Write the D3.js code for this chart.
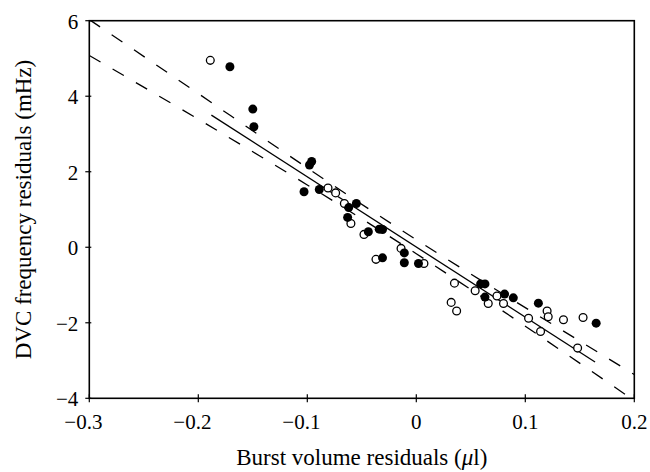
<!DOCTYPE html>
<html>
<head>
<meta charset="utf-8">
<script src="https://cdn.jsdelivr.net/npm/d3@7"></script>
<style>
  body { margin: 0; background: #fff; }
  text { font-family: "Liberation Serif", "Times New Roman", serif; fill: #000; }
</style>
</head>
<body>
<svg id="chart" width="650" height="472"></svg>
<script>
// filled circles
const filledX = [-0.171, -0.150, -0.149, -0.098, -0.096, -0.103, -0.089, -0.055, -0.062, -0.063,
                 -0.044, -0.034, -0.031, -0.011, -0.031, -0.011, 0.002, 0.059, 0.063, 0.063,
                 0.081, 0.089, 0.112, 0.165];
const filledY = [4.78, 3.66, 3.19, 2.18, 2.27, 1.47, 1.53, 1.16, 1.05, 0.79,
                 0.41, 0.48, 0.47, -0.15, -0.28, -0.41, -0.43, -0.97, -0.97, -1.32,
                 -1.24, -1.34, -1.48, -2.01];
// open circles
const openX = [-0.189, -0.081, -0.074, -0.066, -0.060, -0.048, -0.037, -0.014, 0.007, 0.035,
               0.032, 0.037, 0.054, 0.066, 0.074, 0.080, 0.103, 0.120, 0.121, 0.135,
               0.153, 0.114, 0.148];
const openY = [4.95, 1.57, 1.44, 1.16, 0.63, 0.34, -0.32, -0.03, -0.43, -0.95,
               -1.46, -1.69, -1.15, -1.49, -1.29, -1.49, -1.88, -1.69, -1.84, -1.92,
               -1.86, -2.23, -2.67];
// fitted line and its bands
const fitX = [-0.188, 0.164];
const fitY = [3.50, -3.04];
const bandX = [-0.3, -0.2, -0.1, 0, 0.1, 0.2];
const bandUpper = [6.03, 4.07, 2.10, 0.20, -1.60, -3.37];
const bandLower = [5.08, 3.39, 1.65, -0.17, -2.09, -4.06];

const xTicks = [-0.3, -0.2, -0.1, 0, 0.1, 0.2];
const yTicks = [-4, -2, 0, 2, 4, 6];

const margin = {top: 20.7, right: 15.7, bottom: 73.7, left: 89.3};
const W = 650, H = 472;

const svg = d3.select('#chart');

const x = d3.scaleLinear().domain([-0.3, 0.2]).range([margin.left, W - margin.right]);
const y = d3.scaleLinear().domain([-4, 6]).range([H - margin.bottom, margin.top]);

const fmt = v => v === 0 ? '0' : String(Math.abs(v));

svg.append('defs').append('clipPath').attr('id', 'plot')
  .append('rect')
  .attr('x', x(-0.3)).attr('y', y(6))
  .attr('width', x(0.2) - x(-0.3)).attr('height', y(-4) - y(6));

// frame
svg.append('rect')
  .attr('x', x(-0.3)).attr('y', y(6))
  .attr('width', x(0.2) - x(-0.3)).attr('height', y(-4) - y(6))
  .attr('fill', 'none').attr('stroke', '#000').attr('stroke-width', 1.6);

// x ticks
const xt = svg.append('g');
xTicks.forEach(v => {
  xt.append('line')
    .attr('x1', x(v)).attr('x2', x(v))
    .attr('y1', y(-4) - 4).attr('y2', y(-4) + 4)
    .attr('stroke', '#000').attr('stroke-width', 1.2);
  const t = xt.append('text')
    .attr('x', x(v)).attr('y', y(-4) + 31)
    .attr('text-anchor', 'middle')
    .attr('font-size', 21)
    .text(fmt(v));
  if (v < 0) {
    const w = t.node().getComputedTextLength();
    xt.append('text')
      .attr('x', x(v) - w / 2).attr('y', y(-4) + 31)
      .attr('text-anchor', 'end')
      .attr('font-size', 21)
      .text('\u2212');
  }
});

// y ticks
const yt = svg.append('g');
yTicks.forEach(v => {
  yt.append('line')
    .attr('x1', x(-0.3) - 4).attr('x2', x(-0.3) + 2)
    .attr('y1', y(v)).attr('y2', y(v))
    .attr('stroke', '#000').attr('stroke-width', 1.2);
  yt.append('text')
    .attr('x', x(-0.3) - 11).attr('y', y(v) + 8)
    .attr('text-anchor', 'end')
    .attr('font-size', 21)
    .text((v < 0 ? '\u2212' : '') + fmt(v));
});

// axis titles
const xl = svg.append('text')
  .attr('x', (x(-0.3) + x(0.2)) / 2).attr('y', 465)
  .attr('text-anchor', 'middle')
  .attr('font-size', 23);
xl.append('tspan').text('Burst volume residuals (');
xl.append('tspan').attr('font-style', 'italic').text('\u03bc');
xl.append('tspan').text('l)');

svg.append('text')
  .attr('transform', `translate(31,${(y(6) + y(-4)) / 2}) rotate(-90)`)
  .attr('text-anchor', 'middle')
  .attr('font-size', 23)
  .text('DVC frequency residuals (mHz)');

// lines
const lines = svg.append('g').attr('clip-path', 'url(#plot)');
const bandLine = d3.line().x(d => x(d[0])).y(d => y(d[1])).curve(d3.curveNatural);

[bandUpper, bandLower].forEach(b => {
  lines.append('path')
    .datum(bandX.map((v, i) => [v, b[i]]))
    .attr('d', bandLine)
    .attr('fill', 'none')
    .attr('stroke', '#000')
    .attr('stroke-width', 1.3)
    .attr('stroke-dasharray', '13,14');
});

lines.append('path')
  .datum(fitX.map((v, i) => [v, fitY[i]]))
  .attr('d', d3.line().x(d => x(d[0])).y(d => y(d[1])))
  .attr('fill', 'none')
  .attr('stroke', '#000')
  .attr('stroke-width', 1.3);

// points
svg.append('g').selectAll('circle')
  .data(openX.map((v, i) => [v, openY[i]]))
  .enter().append('circle')
  .attr('cx', d => x(d[0])).attr('cy', d => y(d[1]))
  .attr('r', 3.9)
  .attr('fill', '#fff')
  .attr('stroke', '#000')
  .attr('stroke-width', 1.3);

svg.append('g').selectAll('circle')
  .data(filledX.map((v, i) => [v, filledY[i]]))
  .enter().append('circle')
  .attr('cx', d => x(d[0])).attr('cy', d => y(d[1]))
  .attr('r', 4.5)
  .attr('fill', '#000');
</script>
</body>
</html>
